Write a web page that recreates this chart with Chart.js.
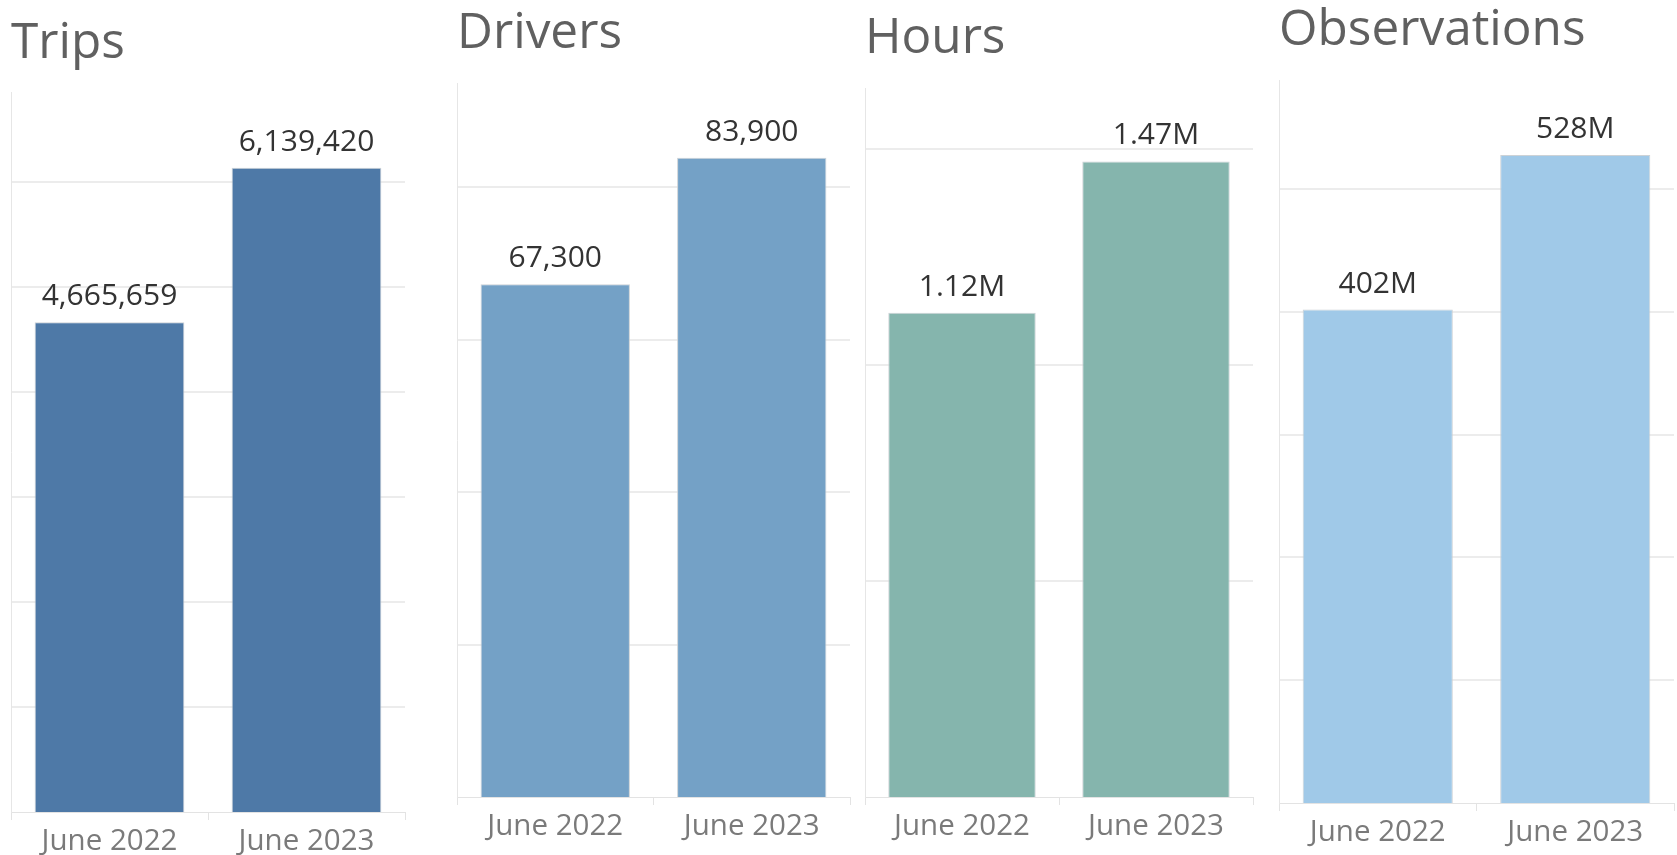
<!DOCTYPE html>
<html>
<head>
<meta charset="utf-8">
<script src="https://cdn.jsdelivr.net/npm/chart.js@4"></script>
<style>
  html, body { margin: 0; padding: 0; background: #fff; overflow: hidden; }
  body { width: 1677px; height: 855px; position: relative; }
  .panel { position: absolute; top: 0; }
</style>
</head>
<body>
<div class="panel" id="p1" style="left:9px;width:398px;height:862px"><canvas id="c1"></canvas></div>
<div class="panel" id="p2" style="left:455px;width:397px;height:847px"><canvas id="c2"></canvas></div>
<div class="panel" id="p3" style="left:863px;width:392px;height:847px"><canvas id="c3"></canvas></div>
<div class="panel" id="p4" style="left:1277px;width:399px;height:853px"><canvas id="c4"></canvas></div>
<script>
// datos
const categories = ["June 2022", "June 2023"];
const trips = [4665659, 6139420];
const drivers = [67300, 83900];
const hours = [1120000, 1470000];
const observations = [402000000, 528000000];

const FONT = "'Open Sans', 'Noto Sans', sans-serif";

// etiquetas de valor arriba de cada barra
const valueLabels = {
  id: "valueLabels",
  afterDatasetsDraw(chart, args, opts) {
    const ctx = chart.ctx;
    const meta = chart.getDatasetMeta(0);
    ctx.save();
    ctx.font = "30px " + FONT;
    ctx.fillStyle = "#333333";
    ctx.textAlign = "center";
    ctx.textBaseline = "alphabetic";
    meta.data.forEach((bar, i) => {
      ctx.fillText(opts.format(chart.data.datasets[0].data[i]), bar.x, bar.y - 17);
    });
    ctx.restore();
  },
};

// lineas horizontales de la grilla, segun la escala y
const gridLines = {
  id: "gridLines",
  beforeDatasetsDraw(chart, args, opts) {
    const ctx = chart.ctx;
    const area = chart.chartArea;
    const y = chart.scales.y;
    ctx.save();
    ctx.strokeStyle = "#ececec";
    ctx.lineWidth = 2;
    for (let v = opts.step; v < y.max; v += opts.step) {
      const py = Math.round(y.getPixelForValue(v));
      ctx.beginPath();
      ctx.moveTo(area.left + 1, py);
      ctx.lineTo(area.right, py);
      ctx.stroke();
    }
    ctx.restore();
  },
};

function grafica(id, titulo, valores, color, max, step, fmt, padTop) {
  new Chart(document.getElementById(id), {
    type: "bar",
    data: {
      labels: categories,
      datasets: [
        {
          data: valores,
          backgroundColor: color,
          borderColor: "rgba(200,205,210,0.9)",
          borderWidth: 1,
          barPercentage: 1,
          categoryPercentage: 0.76,
        },
      ],
    },
    plugins: [gridLines, valueLabels],
    options: {
      responsive: true,
      maintainAspectRatio: false,
      animation: false,
      layout: { padding: { left: 2, right: 2, top: 0, bottom: 0 } },
      plugins: {
        legend: { display: false },
        tooltip: { enabled: false },
        title: {
          display: true,
          text: titulo,
          align: "start",
          color: "#606060",
          font: { family: FONT, size: 49.5, weight: "normal", lineHeight: 1.2 },
          padding: { top: padTop, bottom: padTop === 14.2 ? 18.4 : 19.4 },
        },
        valueLabels: { format: fmt },
        gridLines: { step: step },
      },
      scales: {
        x: {
          offset: true,
          border: { display: true, color: "#e3e3e3" },
          grid: {
            offset: true,
            drawOnChartArea: false,
            drawTicks: true,
            tickLength: 8,
            color: "#e3e3e3",
          },
          ticks: {
            padding: 4,
            color: "#7a7a7a",
            font: { family: FONT, size: 29.5 },
          },
          afterFit: (s) => {
            s.height = 50;
          },
        },
        y: {
          min: 0,
          max: max,
          border: { display: true, color: "#e6e6e6" },
          grid: { display: false, drawTicks: false },
          ticks: { display: false, stepSize: step },
        },
      },
    },
  });
}

grafica("c1", "Trips", trips, "#4e79a7", 6860000, 1000000, (v) => v.toLocaleString("en-US"), 14.2);
grafica("c2", "Drivers", drivers, "#74a1c6", 93700, 20000, (v) => v.toLocaleString("en-US"), 4.2);
grafica("c3", "Hours", hours, "#85b5ad", 1640000, 500000, (v) => (v / 1e6).toFixed(2) + "M", 9.2);
grafica("c4", "Observations", observations, "#a0c9e8", 589000000, 100000000, (v) => Math.round(v / 1e6) + "M", 1.2);
</script>
</body>
</html>
